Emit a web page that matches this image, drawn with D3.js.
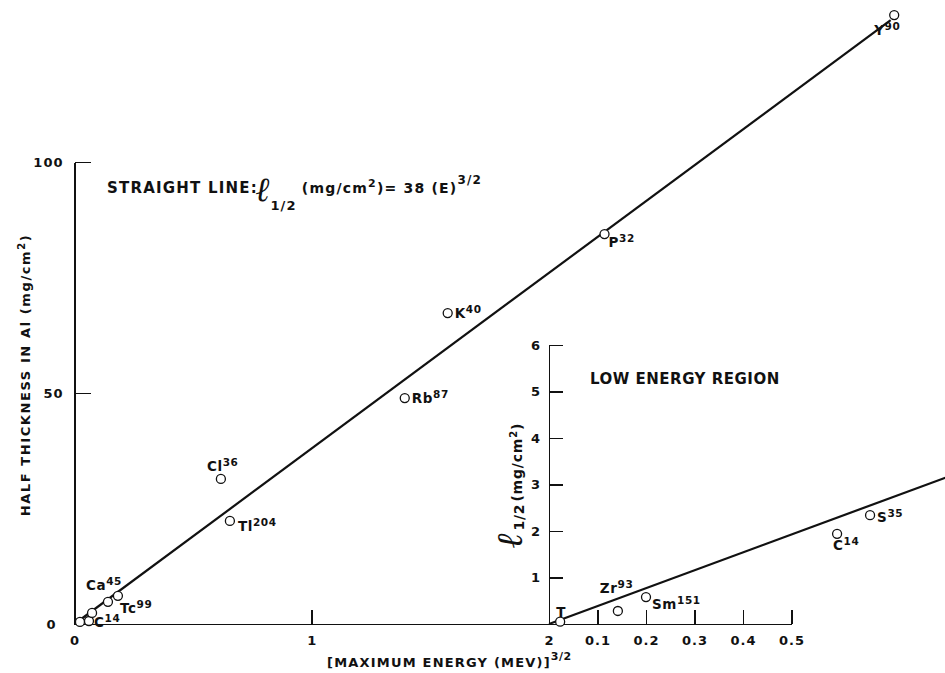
<!DOCTYPE html>
<html lang="en">
<head>
<meta charset="UTF-8">
<title>Half thickness in Al vs maximum beta energy</title>
<script src="https://d3js.org/d3.v7.min.js"></script>
<style>
html,body{margin:0;padding:0;background:#fff}
svg{display:block}
.lbl{font-family:"DejaVu Sans",sans-serif;font-weight:bold;fill:#111;letter-spacing:0.6px}
.axis path,.axis line{stroke:#111;stroke-width:1.6;shape-rendering:crispEdges}
.axis text{font-family:"DejaVu Sans",sans-serif;font-weight:bold;font-size:13px;fill:#111;letter-spacing:1px}
.script{font-family:"DejaVu Serif",serif;font-style:italic;font-weight:bold;letter-spacing:0}
.pt{fill:#fff;stroke:#111;stroke-width:1.3}
.fit{fill:none;stroke:#111;stroke-width:2.2}
</style>
</head>
<body>
<svg id="chart" width="945" height="673"></svg>
<script>
// ── data: main plot, half thickness (mg/cm2) vs E^(3/2) ──
var mainNames = ['Y', 'P', 'K', 'Rb', 'Cl', 'Tl', 'Ca', 'Tc', 'C', '', ''];
var mainMass  = ['90', '32', '40', '87', '36', '204', '45', '99', '14', '', ''];
var mainE32   = [3.455, 2.234, 1.573, 1.392, 0.617, 0.655, 0.141, 0.183, 0.061, 0.074, 0.023];
var mainHalf  = [131.8, 84.4, 67.3, 48.9, 31.4, 22.3, 4.8, 6.1, 0.65, 2.4, 0.45];
var mainXTicks = [0, 1, 2];
var mainYTicks = [0, 50, 100];
var fitSlope = 38;
var fitExtent = [0, 3.44];

// ── data: low energy inset ──
var lowNames = ['T', 'Zr', 'Sm', 'C', 'S'];
var lowMass  = ['', '93', '151', '14', '35'];
var lowE     = [0.023, 0.142, 0.2, 0.594, 0.662];
var lowHalf  = [0.05, 0.28, 0.58, 1.94, 2.34];
var lowXTicks = [0.1, 0.2, 0.3, 0.4, 0.5];
var lowYTicks = [1, 2, 3, 4, 5, 6];
var lowSlope = 3.85;
var lowExtent = [0, 0.84];

// label placement (pixels, relative to the circle)
var mainLabelOff = {
  Y: [-20, 20], P: [4, 13], K: [7, 5], Rb: [7, 5], Cl: [-14, -8],
  Tl: [8, 10], Ca: [-22, -12], Tc: [2, 17], C: [5, 6]
};
var lowLabelOff = { T: [-4, -5], Zr: [-18, -18], Sm: [6, 12], C: [-4, 16], S: [7, 7] };

var svg = d3.select('#chart');

var xMain = d3.scaleLinear().domain([0, 2]).range([74.5, 549]);
var yMain = d3.scaleLinear().domain([0, 100]).range([624, 162]);
var xLow = d3.scaleLinear().domain([0, 0.5]).range([549, 791.5]);
var yLow = d3.scaleLinear().domain([0, 6]).range([624, 345]);

// ── axes ──
var yAxisG = svg.append('g').attr('class', 'axis')
  .attr('transform', 'translate(' + xMain(0) + ',0)')
  .call(d3.axisLeft(yMain).tickValues(mainYTicks).tickSizeInner(-16).tickSizeOuter(0)
    .tickPadding(11).tickFormat(d3.format('d')));
// the 0 on the half-thickness axis sits a bit further out
yAxisG.selectAll('.tick').filter(function(d) { return d === 0; }).select('text').attr('x', -18);

svg.append('g').attr('class', 'axis')
  .attr('transform', 'translate(0,' + yMain(0) + ')')
  .call(d3.axisBottom(xMain).tickValues(mainXTicks).tickSizeInner(-14).tickSizeOuter(0)
    .tickPadding(12).tickFormat(d3.format('d')));

svg.append('g').attr('class', 'axis')
  .attr('transform', 'translate(0,' + yLow(0) + ')')
  .call(d3.axisBottom(xLow).tickValues(lowXTicks).tickSizeInner(-14).tickSizeOuter(0)
    .tickPadding(12).tickFormat(d3.format('.1f')));

svg.append('g').attr('class', 'axis')
  .attr('transform', 'translate(' + xLow(0) + ',0)')
  .call(d3.axisLeft(yLow).tickValues(lowYTicks).tickSizeInner(-14).tickSizeOuter(0)
    .tickPadding(8).tickFormat(d3.format('d')));

// ── fit lines ──
var mainLine = d3.line()
  .x(function(d) { return xMain(d); })
  .y(function(d) { return yMain(fitSlope * d); });
svg.append('path').attr('class', 'fit').attr('d', mainLine(fitExtent));

var lowLine = d3.line()
  .x(function(d) { return xLow(d); })
  .y(function(d) { return yLow(lowSlope * d); });
svg.append('path').attr('class', 'fit').attr('d', lowLine(lowExtent));

// ── points + labels ──
function addLabel(x, y, name, mass) {
  var t = svg.append('text').attr('class', 'lbl').attr('x', x).attr('y', y).style('font-size', '13.5px');
  t.append('tspan').text(name);
  if (mass) t.append('tspan').attr('dy', -5).style('font-size', '10.5px').text(mass);
}

mainE32.forEach(function(e, i) {
  var cx = xMain(e), cy = yMain(mainHalf[i]);
  svg.append('circle').attr('class', 'pt').attr('cx', cx).attr('cy', cy).attr('r', 4.5);
  var name = mainNames[i];
  if (name) {
    var off = mainLabelOff[name];
    addLabel(cx + off[0], cy + off[1], name, mainMass[i]);
  }
});

lowE.forEach(function(e, i) {
  var cx = xLow(e), cy = yLow(lowHalf[i]);
  svg.append('circle').attr('class', 'pt').attr('cx', cx).attr('cy', cy).attr('r', 4.5);
  var off = lowLabelOff[lowNames[i]];
  addLabel(cx + off[0], cy + off[1], lowNames[i], lowMass[i]);
});

// ── titles ──
var yt = svg.append('text').attr('class', 'lbl').style('font-size', '13px')
  .style('letter-spacing', '1.6px')
  .attr('text-anchor', 'middle')
  .attr('transform', 'translate(30,375) rotate(-90)');
yt.append('tspan').text('HALF THICKNESS IN Al (mg/cm');
yt.append('tspan').attr('dy', -5).style('font-size', '10px').text('2');
yt.append('tspan').attr('dy', 5).text(')');

var xt = svg.append('text').attr('class', 'lbl').style('font-size', '13px')
  .style('letter-spacing', '1.2px')
  .attr('x', 327).attr('y', 667);
xt.append('tspan').text('[MAXIMUM ENERGY (MEV)]');
xt.append('tspan').attr('dy', -7).style('font-size', '11px').style('letter-spacing', '0.5px').text('3/2');

var eq = svg.append('text').attr('class', 'lbl').style('font-size', '15px')
  .style('letter-spacing', '1.2px')
  .attr('x', 107).attr('y', 193);
eq.append('tspan').text('STRAIGHT LINE:');
eq.append('tspan').attr('class', 'script').attr('dy', 8).attr('dx', -2).style('font-size', '34px').text('ℓ');
eq.append('tspan').attr('dy', 9).attr('dx', 0).style('font-size', '13px').text('1/2');
eq.append('tspan').attr('dy', -17).attr('dx', 5).style('font-size', '14px').text('(mg/cm');
eq.append('tspan').attr('dy', -6).style('font-size', '11px').text('2');
eq.append('tspan').attr('dy', 6).style('font-size', '14px').text(')= 38 (E)');
eq.append('tspan').attr('dy', -9).style('font-size', '12px').text('3/2');

svg.append('text').attr('class', 'lbl').style('font-size', '15px')
  .style('letter-spacing', '0.5px')
  .attr('x', 590).attr('y', 384).text('LOW ENERGY REGION');

var lt = svg.append('text').attr('class', 'lbl').style('font-size', '14px')
  .style('letter-spacing', '0.8px')
  .attr('transform', 'translate(522,548) rotate(-90)');
lt.append('tspan').attr('class', 'script').style('font-size', '36px').text('ℓ');
lt.append('tspan').attr('dy', 2).attr('dx', 2).style('font-size', '14px').text('1/2');
lt.append('tspan').attr('dy', -2).attr('dx', 2).text('(mg/cm');
lt.append('tspan').attr('dy', -5).style('font-size', '10px').text('2');
lt.append('tspan').attr('dy', 5).text(')');
</script>
</body>
</html>
